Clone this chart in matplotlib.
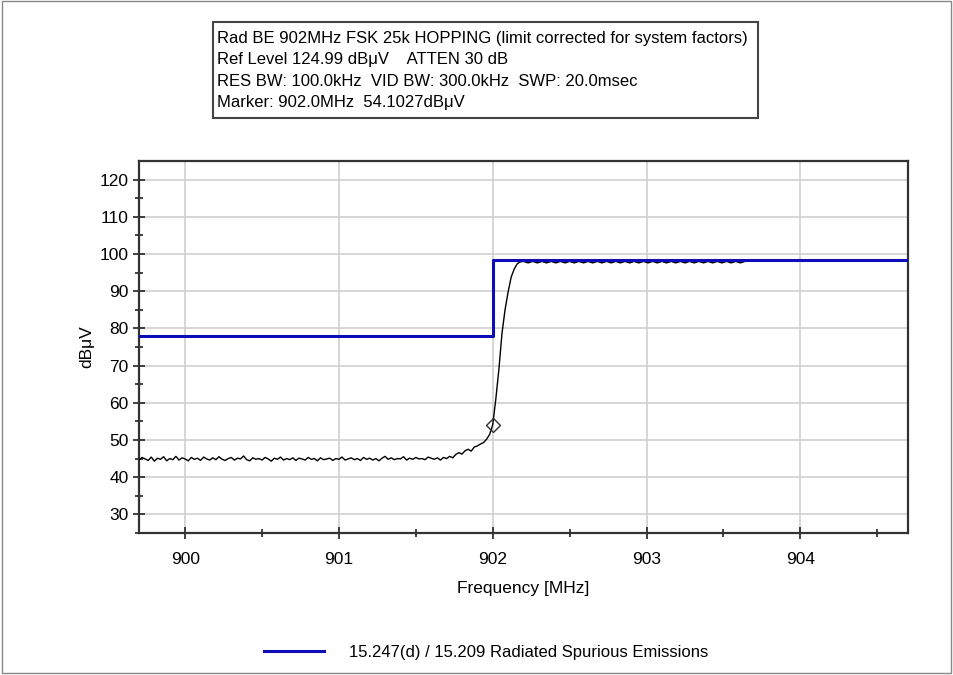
import matplotlib.pyplot as plt
import numpy as np
from matplotlib.patches import Rectangle

plt.rcParams['font.family'] = ['Liberation Sans', 'DejaVu Sans']

# limit line (15.247(d) / 15.209)
limit_freq = [899.7, 902.0, 902.0, 904.7]
limit_level = [78.0, 78.0, 98.4, 98.4]

# noise floor of the sweep, 899.70 - 901.68 MHz, 20 kHz steps
noise_level = [
    44.6, 45.3, 44.9, 44.5, 45.4, 44.3, 45.1, 44.8, 45.5, 44.4,
    45.0, 44.7, 45.6, 44.6, 45.2, 44.9, 44.4, 45.3, 44.8, 45.1,
    44.5, 45.4, 44.9, 44.6, 45.2, 44.7, 45.5, 44.8, 44.5, 45.0,
    45.3, 44.6, 45.1, 44.9, 45.7, 44.7, 44.4, 45.2, 44.8, 45.0,
    44.6, 45.3, 44.9, 44.3, 45.1, 44.8, 45.4, 44.6, 45.0, 44.7,
    45.2, 44.5, 45.1, 44.9, 44.6, 45.3, 44.8, 45.0, 44.4, 45.2,
    44.7, 44.9, 45.1, 44.5, 45.0, 44.8, 45.4, 44.6, 44.9, 45.2,
    44.7, 45.0, 44.5, 45.3, 44.8, 45.1, 44.6, 45.0, 44.4, 45.1,
    45.6, 44.8, 45.2, 44.7, 45.0, 44.9, 45.5, 44.6, 45.1, 44.8,
    45.3, 44.9, 45.0, 44.7, 45.4, 45.1, 44.8, 45.2, 44.6, 45.3,
]
noise_freq = np.linspace(899.70, 901.68, len(noise_level))

# band edge rise
rise_freq = [901.70, 901.72, 901.74, 901.76, 901.78, 901.80, 901.82, 901.84,
             901.86, 901.88, 901.90, 901.92, 901.94, 901.96, 901.98, 902.00,
             902.02, 902.04, 902.06, 902.08, 902.10, 902.12, 902.14, 902.16,
             902.18, 902.20]
rise_level = [45.0, 45.6, 45.2, 46.1, 46.6, 46.2, 47.1, 47.5,
              47.0, 48.1, 48.4, 48.9, 49.3, 50.2, 51.5, 54.1,
              61.0, 69.0, 78.6, 85.0, 89.8, 93.8, 96.0, 97.4,
              97.9, 98.0]

# in-band level, 902.23 - 903.64 MHz
flat_level = [
    97.6, 98.0, 97.6, 98.0, 97.6, 98.0, 97.6, 98.0, 97.6, 98.0,
    97.6, 98.0, 97.6, 98.0, 97.6, 98.0, 97.6, 98.0, 97.6, 98.0,
    97.6, 98.0, 97.6, 98.0, 97.6, 98.0, 97.6, 98.0, 97.6, 98.0,
    97.6, 98.0, 97.6, 98.0, 97.6, 98.0, 97.6, 98.0, 97.6, 98.0,
    97.6, 98.0, 97.6, 98.0, 97.6, 98.0, 97.6, 98.0,
]
flat_freq = np.linspace(902.23, 903.64, len(flat_level))

trace_freq = np.concatenate([noise_freq, rise_freq, flat_freq])
trace_level = np.concatenate([noise_level, rise_level, flat_level])

marker_freq = 902.0
marker_level = 54.1027

header_lines = [
    'Rad BE 902MHz FSK 25k HOPPING (limit corrected for system factors)',
    'Ref Level 124.99 dB\u03bcV    ATTEN 30 dB',
    'RES BW: 100.0kHz  VID BW: 300.0kHz  SWP: 20.0msec',
    'Marker: 902.0MHz  54.1027dB\u03bcV',
]

fig = plt.figure(figsize=(9.54, 6.75), dpi=100)
ax = fig.add_axes([139 / 954, 1 - 533 / 675, 769 / 954, 372 / 675])

ax.plot(trace_freq, trace_level, color='black', lw=1.0, zorder=3)
ax.plot(marker_freq, marker_level, marker='D', ms=7, mfc='none', mec='#333333', mew=1.0, zorder=4)
lim, = ax.plot(limit_freq, limit_level, color='#0c0cb8', lw=2.2, zorder=5,
               label='15.247(d) / 15.209 Radiated Spurious Emissions')

ax.set_xlim(899.7, 904.7)
ax.set_ylim(24.99, 124.99)
ax.set_xticks([900, 901, 902, 903, 904])
ax.set_xticks([900.5, 901.5, 902.5, 903.5, 904.5], minor=True)
ax.set_yticks(range(30, 121, 10))
ax.set_yticks(range(25, 125, 10), minor=True)
ax.grid(True, which='major', color='#d0d0d0', lw=1.2)
ax.set_axisbelow(True)
ax.tick_params(which='both', direction='inout', length=8, width=1.2, labelsize=12.5, color='#222222')
ax.tick_params(which='minor', length=6)
ax.tick_params(axis='x', which='major', pad=10)
for s in ax.spines.values():
    s.set_color('#333333')
    s.set_linewidth(1.6)

ax.set_xlabel('Frequency [MHz]', fontsize=12.5, labelpad=10)
ax.set_ylabel('dB\u03bcV', fontsize=12.5, labelpad=4)

# header box
fig.patches.append(Rectangle((213 / 954, 1 - 118 / 675), 545 / 954, 96 / 675,
                             transform=fig.transFigure, fill=False, ec='#444444', lw=1.5))
for i, line in enumerate(header_lines):
    fig.text(217 / 954, 1 - (38 + 21.5 * i) / 675, line, fontsize=12, va='center', ha='left')

fig.legend(handles=[lim], loc='center', bbox_to_anchor=(486 / 954, 1 - 652 / 675),
           frameon=False, fontsize=12, handlelength=3.6, handletextpad=1.5)

# outer frame
fig.patches.append(Rectangle((0.002, 0.003), 0.995, 0.995, transform=fig.transFigure,
                             fill=False, ec='#888888', lw=1.0))

fig.savefig('out.png', dpi=100)
